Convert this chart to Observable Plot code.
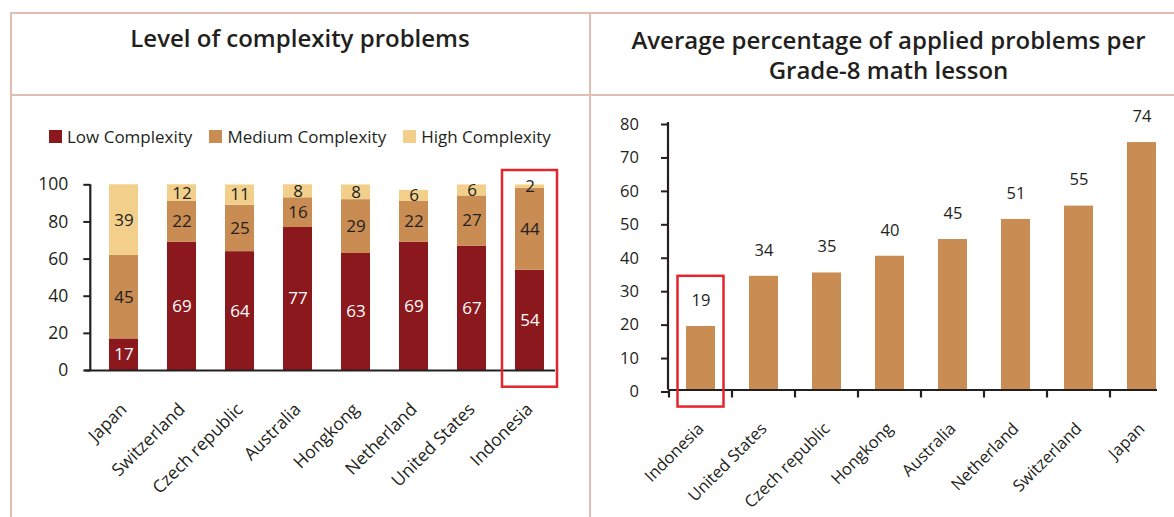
<!DOCTYPE html>
<html><head><meta charset="utf-8">
<script src="https://cdn.jsdelivr.net/npm/d3@7"></script>
<script src="https://cdn.jsdelivr.net/npm/@observablehq/plot@0.6"></script>
<style>
html,body{margin:0;padding:0;background:#fff;}
body{width:1174px;height:517px;position:relative;overflow:hidden;font-family:"Open Sans",sans-serif;color:#231f20;}
.line{position:absolute;background:#e0bfb2;z-index:5;}
.title{position:absolute;font-weight:600;font-size:24px;text-align:center;line-height:30px;z-index:6;}
#legend{position:absolute;left:49px;top:125px;display:flex;align-items:center;font-size:17px;white-space:nowrap;z-index:6;}
#legend .item{display:flex;align-items:center;margin-right:17px;}
#legend .sw{width:13px;height:13px;margin-right:5px;}
#left{position:absolute;left:0;top:150px;}
#right{position:absolute;left:590px;top:100px;}
</style></head>
<body>
<div id="left"></div>
<div id="right"></div>
<div class="line" style="left:10px;top:12px;width:1164px;height:2px"></div>
<div class="line" style="left:10px;top:94px;width:1164px;height:2px"></div>
<div class="line" style="left:10px;top:12px;width:2px;height:505px"></div>
<div class="line" style="left:589px;top:12px;width:2px;height:505px"></div>
<div class="title" style="left:12px;width:576px;top:23px">Level of complexity problems</div>
<div class="title" style="left:591px;width:595px;top:25px">Average percentage of applied problems per<br>Grade-8 math lesson</div>
<div id="legend"></div>
<script>
// ---------- data ----------
const countries = ["Japan", "Switzerland", "Czech republic", "Australia", "Hongkong", "Netherland", "United States", "Indonesia"];
const lowComplexity = [17, 69, 64, 77, 63, 69, 67, 54];
const mediumComplexity = [45, 22, 25, 16, 29, 22, 27, 44];
const highComplexity = [39, 12, 11, 8, 8, 6, 6, 2];
const seriesNames = ["Low Complexity", "Medium Complexity", "High Complexity"];
const leftTicks = [0, 20, 40, 60, 80, 100];

const appliedCountries = ["Indonesia", "United States", "Czech republic", "Hongkong", "Australia", "Netherland", "Switzerland", "Japan"];
const appliedPercent = [19, 34, 35, 40, 45, 51, 55, 74];
const rightTicks = [0, 10, 20, 30, 40, 50, 60, 70, 80];

const highlighted = ["Indonesia"];

// ---------- styles ----------
const seriesColors = ["#8b181d", "#c98c52", "#f2d08b"];
const ink = "#231f20";
const red = "#e5252c";

// ---------- tables ----------
const seriesArrays = [lowComplexity, mediumComplexity, highComplexity];
const stacked = [];
countries.forEach((c, i) => {
  let base = 0;
  seriesArrays.forEach((arr, s) => {
    stacked.push({country: c, series: seriesNames[s], value: arr[i], y1: base, y2: base + arr[i]});
    base += arr[i];
  });
});
const applied = appliedCountries.map((c, i) => ({country: c, value: appliedPercent[i]}));

// ---------- helpers (drawn from Plot's scales) ----------
function pick(args) {
  const scales = args.find(a => a && typeof a === "object" && typeof a.y === "function");
  const dims = args.find(a => a && typeof a === "object" && "marginLeft" in a && "height" in a);
  return {scales, dims};
}
function yAxisLine(v0, v1) {
  return function (...args) {
    const {scales, dims} = pick(args);
    return d3.create("svg:line")
      .attr("x1", dims.marginLeft).attr("x2", dims.marginLeft)
      .attr("y1", scales.y(v0)).attr("y2", scales.y(v1))
      .attr("stroke", ink).attr("stroke-width", 2.2).node();
  };
}
function boundaryTicks(domain, len) {
  return function (...args) {
    const {scales} = pick(args);
    const sx = scales.x;
    const bw = typeof sx.bandwidth === "function" ? sx.bandwidth() : (sx.bandwidth || 0);
    const step = sx(domain[1]) - sx(domain[0]);
    const y0 = scales.y(0);
    const g = d3.create("svg:g").attr("stroke", ink).attr("stroke-width", 2.2);
    domain.forEach(c => {
      const bx = sx(c) + bw / 2 - step / 2;
      g.append("line").attr("x1", bx).attr("x2", bx).attr("y1", y0).attr("y2", y0 + len);
    });
    return g.node();
  };
}

// ---------- legend ----------
const legend = document.getElementById("legend");
seriesNames.forEach((n, i) => {
  const it = document.createElement("div"); it.className = "item";
  const sw = document.createElement("div"); sw.className = "sw"; sw.style.background = seriesColors[i];
  const tx = document.createElement("span"); tx.textContent = n;
  it.appendChild(sw); it.appendChild(tx); legend.appendChild(it);
});

// ---------- left chart ----------
const leftMax = 100;
const leftPlot = Plot.plot({
  width: 590, height: 367,
  marginTop: 34.3, marginBottom: 147, marginLeft: 90.3, marginRight: 28,
  style: {fontFamily: "Open Sans", fontSize: "17.5px", color: ink, background: "transparent", overflow: "visible"},
  x: {domain: countries, paddingInner: 0.504, paddingOuter: 0.284, label: null},
  y: {domain: [0, leftMax], label: null},
  color: {domain: seriesNames, range: seriesColors},
  marks: [
    Plot.barY(stacked, {x: "country", y1: "y1", y2: "y2", fill: "series", clip: true}),
    Plot.text(stacked.filter(d => d.series === seriesNames[0]), {
      x: "country", y: d => (d.y1 + Math.min(d.y2, leftMax)) / 2, text: "value", fill: "white", lineAnchor: "middle", fontSize: 17
    }),
    Plot.text(stacked.filter(d => d.series !== seriesNames[0]), {
      x: "country", y: d => (d.y1 + Math.min(d.y2, leftMax)) / 2, text: "value", fill: ink, lineAnchor: "middle", fontSize: 17
    }),
    Plot.ruleY([0], {stroke: ink, strokeWidth: 2.2, insetLeft: -5.6, insetRight: 7}),
    yAxisLine(0, leftMax),
    Plot.axisY(leftTicks, {tickSize: 7, tickPadding: 15.6, stroke: ink, strokeWidth: 2, label: null}),
    Plot.axisX({tickSize: 0, tickRotate: -45, tickPadding: 36, textAnchor: "end", lineAnchor: "middle", label: null}),
    Plot.barY(highlighted, {x: d => d, y1: -9, y2: 107.7, fill: "none", stroke: red, strokeWidth: 2.5, insetLeft: -13, insetRight: -13})
  ]
});
document.getElementById("left").appendChild(leftPlot);

// ---------- right chart ----------
const rightPlot = Plot.plot({
  width: 584, height: 417,
  marginTop: 22, marginBottom: 127.5, marginLeft: 78, marginRight: 0,
  style: {fontFamily: "Open Sans", fontSize: "16.5px", color: ink, background: "transparent", overflow: "visible"},
  x: {domain: appliedCountries, paddingInner: 0.542, paddingOuter: 0.2686, label: null},
  y: {domain: [0, 80], label: null},
  marks: [
    Plot.barY(applied, {x: "country", y: "value", fill: seriesColors[1]}),
    Plot.text(applied, {x: "country", y: "value", text: "value", dy: -26, fill: ink, lineAnchor: "middle"}),
    Plot.ruleY([0], {stroke: ink, strokeWidth: 2.2, insetRight: 17}),
    yAxisLine(0, 80),
    boundaryTicks(appliedCountries, 8),
    Plot.axisY(rightTicks, {tickSize: 7, tickPadding: 22.6, dy: 2, stroke: ink, strokeWidth: 2, label: null}),
    Plot.axisX({tickSize: 0, tickRotate: -45, tickPadding: 36, textAnchor: "end", lineAnchor: "middle", label: null}),
    Plot.barY(highlighted, {x: d => d, y1: -5.1, y2: 34, fill: "none", stroke: red, strokeWidth: 2.5, insetLeft: -8.5, insetRight: -8.5})
  ]
});
document.getElementById("right").appendChild(rightPlot);
</script>
</body></html>
